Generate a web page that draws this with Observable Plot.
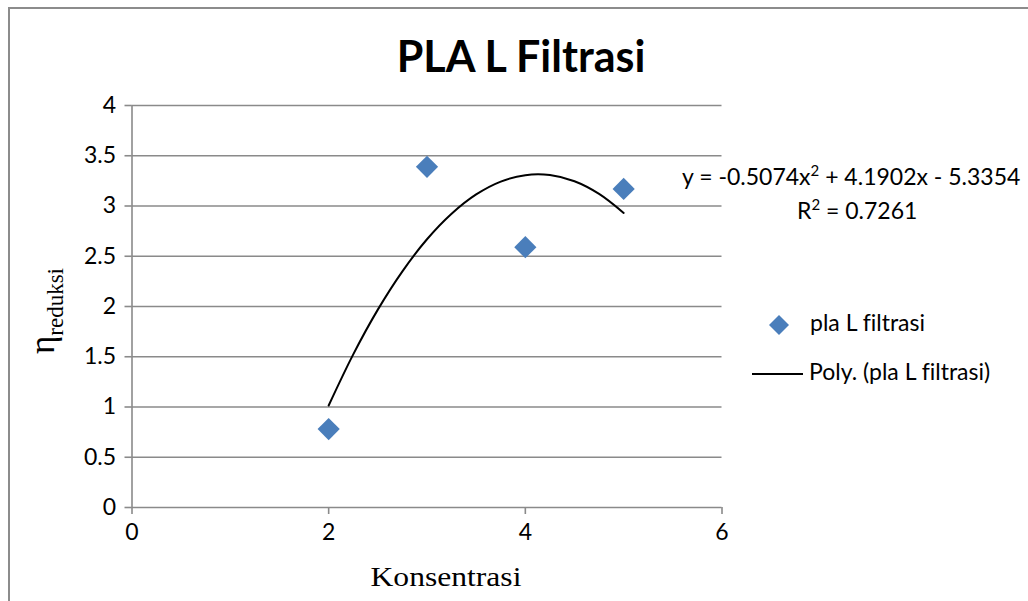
<!DOCTYPE html>
<html>
<head>
<meta charset="utf-8">
<script src="https://cdn.jsdelivr.net/npm/d3@7"></script>
<script src="https://cdn.jsdelivr.net/npm/@observablehq/plot@0.6"></script>
<style>
  html, body { margin: 0; padding: 0; background: #fff; }
  #wrap { position: relative; width: 1028px; height: 601px; overflow: hidden; font-family: Lato, "Open Sans", sans-serif; font-variant-ligatures: none; }
  #frame { position: absolute; left: 8px; top: 7px; width: 1040px; height: 620px; border: 2px solid #8c8c8c; box-sizing: border-box; }
  #title { position: absolute; left: 0; width: 1042px; top: 30px; text-align: center; font-weight: 700; font-size: 43px; color: #000; line-height: 1.2; }
  .ann { position: absolute; font-size: 23px; line-height: 28px; color: #000; white-space: nowrap; }
  #ylab { position: absolute; left: 46px; top: 311px; transform: translate(-50%, -50%) rotate(-90deg); font-family: "Liberation Serif", serif; white-space: nowrap; color: #000; line-height: 1; }
  #xlab { position: absolute; left: 446px; top: 561px; transform: translateX(-50%) scaleX(1.17); font-family: "Liberation Serif", serif; font-size: 27px; line-height: 1.2; color: #000; }
  svg.plot { position: absolute; left: 0; top: 0; }
</style>
</head>
<body>
<div id="wrap">
  <div id="frame"></div>
</div>
<script>
// Data
const konsentrasi = [2, 3, 4, 5];
const reduksi = [0.78, 3.39, 2.59, 3.17];
// trendline points
const trendX = [2, 2.25, 2.5, 2.75, 3, 3.25, 3.5, 3.75, 4, 4.25, 4.5, 4.75, 5];
const trendY = [1.015, 1.524, 1.969, 2.350, 2.669, 2.923, 3.115, 3.243, 3.307, 3.308, 3.246, 3.120, 2.931];
const xTicks = [0, 2, 4, 6];
const yTicks = [0, 0.5, 1, 1.5, 2, 2.5, 3, 3.5, 4];
const titleText = "PLA L Filtrasi";
const seriesName = "pla L filtrasi";
const trendName = "Poly. (pla L filtrasi)";
const xLabel = "Konsentrasi";
const yLabelMain = "η";
const yLabelSub = "reduksi";

const points = konsentrasi.map((x, i) => ({x, y: reduksi[i]}));
const trend = trendX.map((x, i) => ({x, y: trendY[i]}));

const gridColor = "#8a8a8a";
const blue = "#4a7ebb";

const chart = Plot.plot({
  width: 1028,
  height: 601,
  marginLeft: 131.5,
  marginRight: 306.5,
  marginTop: 105,
  marginBottom: 94,
  style: { fontFamily: "Lato, 'Open Sans', sans-serif", background: "transparent", overflow: "visible" },
  x: { domain: [0, 6], ticks: xTicks },
  y: { domain: [0, 4], ticks: yTicks },
  marks: [
    Plot.gridY(yTicks, { stroke: gridColor, strokeOpacity: 1, strokeWidth: 1.6 }),
    Plot.ruleX([0], { stroke: gridColor, strokeWidth: 1.6 }),
    Plot.axisY(yTicks, { tickSize: 7, tickPadding: 9, stroke: gridColor, strokeWidth: 1.6, fontSize: 23, fill: "#000", tickFormat: d => String(d), label: null }),
    Plot.axisX(xTicks, { tickSize: 7, tickPadding: 9, stroke: gridColor, strokeWidth: 1.6, fontSize: 23, fill: "#000", tickFormat: d => String(d), label: null }),
    Plot.line(trend, { x: "x", y: "y", stroke: "#000", strokeWidth: 2, curve: "catmull-rom" }),
    Plot.dot(points, { x: "x", y: "y", symbol: "diamond2", r: 10, fill: blue, stroke: "none" })
  ]
});
chart.classList.add("plot");
const wrap = document.getElementById("wrap");
wrap.appendChild(chart);

const title = document.createElement("div");
title.id = "title";
title.textContent = titleText;
wrap.appendChild(title);

// Equation and R²
const eq = document.createElement("div");
eq.className = "ann";
eq.style.left = "682px"; eq.style.top = "162px";
eq.innerHTML = "y = -0.5074x<sup style='font-size:15px;vertical-align:9px;line-height:0'>2</sup> + 4.1902x - 5.3354";
wrap.appendChild(eq);
const r2 = document.createElement("div");
r2.className = "ann";
r2.style.left = "797px"; r2.style.top = "196px";
r2.innerHTML = "R<sup style='font-size:15px;vertical-align:9px;line-height:0'>2</sup> = 0.7261";
wrap.appendChild(r2);

// Legend
const l1 = document.createElement("div");
l1.className = "ann";
l1.style.left = "767px"; l1.style.top = "308px";
l1.innerHTML = `<svg width="24" height="24" style="vertical-align:middle;margin-right:19px"><polygon points="12,2 22,12 12,22 2,12" fill="${blue}"/></svg>` + seriesName;
wrap.appendChild(l1);
const l2 = document.createElement("div");
l2.className = "ann";
l2.style.left = "752px"; l2.style.top = "357px";
l2.innerHTML = `<span style="display:inline-block;width:51px;border-top:2px solid #000;vertical-align:middle;margin-right:6px"></span>` + trendName;
wrap.appendChild(l2);

// Axis titles
const ylab = document.createElement("div");
ylab.id = "ylab";
ylab.innerHTML = `<span style="font-size:35px">${yLabelMain}</span><span style="font-size:23px;vertical-align:-9px">${yLabelSub}</span>`;
wrap.appendChild(ylab);
const xlab = document.createElement("div");
xlab.id = "xlab";
xlab.textContent = xLabel;
wrap.appendChild(xlab);
</script>
</body>
</html>
